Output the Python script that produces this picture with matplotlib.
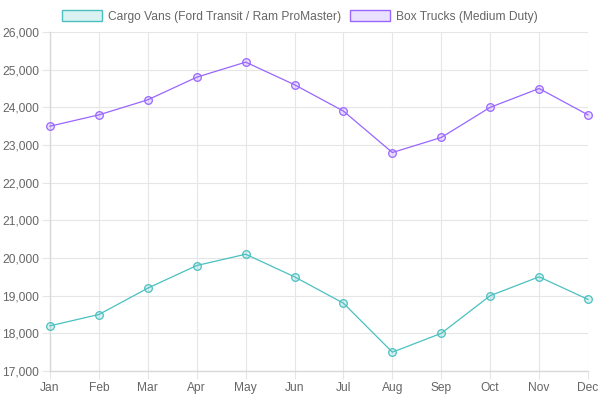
import matplotlib
matplotlib.use("Agg")
import matplotlib.pyplot as plt
from matplotlib.patches import Patch
from matplotlib.ticker import FuncFormatter, MultipleLocator

months = ["Jan", "Feb", "Mar", "Apr", "May", "Jun", "Jul", "Aug", "Sep", "Oct", "Nov", "Dec"]
cargo_vans = [18200, 18500, 19200, 19800, 20100, 19500, 18800, 17500, 18000, 19000, 19500, 18900]
box_trucks = [23500, 23800, 24200, 24800, 25200, 24600, 23900, 22800, 23200, 24000, 24500, 23800]
labels = ["Cargo Vans (Ford Transit / Ram ProMaster)", "Box Trucks (Medium Duty)"]

teal = (75/255, 192/255, 192/255)
purple = (153/255, 102/255, 255/255)

plt.rcParams['font.family'] = ['Liberation Sans', 'DejaVu Sans']
fs = 8.64

fig = plt.figure(figsize=(6, 4), dpi=100)
ax = fig.add_axes([50/600, 1-371/400, 538/600, (371-32)/400])

x = list(range(len(months)))
for data, col in [(cargo_vans, teal), (box_trucks, purple)]:
    ax.plot(x, data, color=col, linewidth=0.9, marker='o', markersize=5.5,
            markerfacecolor=(*col, 0.2), markeredgecolor=col, markeredgewidth=0.9, zorder=3,
            clip_on=False)

ax.set_xlim(0, len(months)-1)
ax.set_ylim(17000, 26000)
ax.set_xticks(x)
ax.set_xticklabels(months)
ax.yaxis.set_major_locator(MultipleLocator(1000))
ax.yaxis.set_major_formatter(FuncFormatter(lambda v, p: f"{int(v):,}"))

gc = '#e6e6e6'
for s in ['top', 'right']:
    ax.spines[s].set_visible(False)
for s in ['left', 'bottom']:
    ax.spines[s].set_color('#d9d9d9')
    ax.spines[s].set_linewidth(1.0)
ax.tick_params(axis='both', labelcolor='#666666', labelsize=fs, length=6, width=0.8,
               color=gc, pad=2)
ax.set_axisbelow(True)
ax.grid(True, color=gc, linewidth=0.8)

handles = [Patch(facecolor=(*teal, 0.2), edgecolor=teal, linewidth=1.0),
           Patch(facecolor=(*purple, 0.2), edgecolor=purple, linewidth=1.0)]
fig.legend(handles, labels, loc='upper center', bbox_to_anchor=(0.5, 1.0), ncol=2,
           frameon=False, fontsize=fs, labelcolor='#666666',
           handlelength=3.33, handleheight=1.0, handletextpad=0.5, columnspacing=0.8,
           borderaxespad=0.45)

fig.savefig("out.png", dpi=100)
